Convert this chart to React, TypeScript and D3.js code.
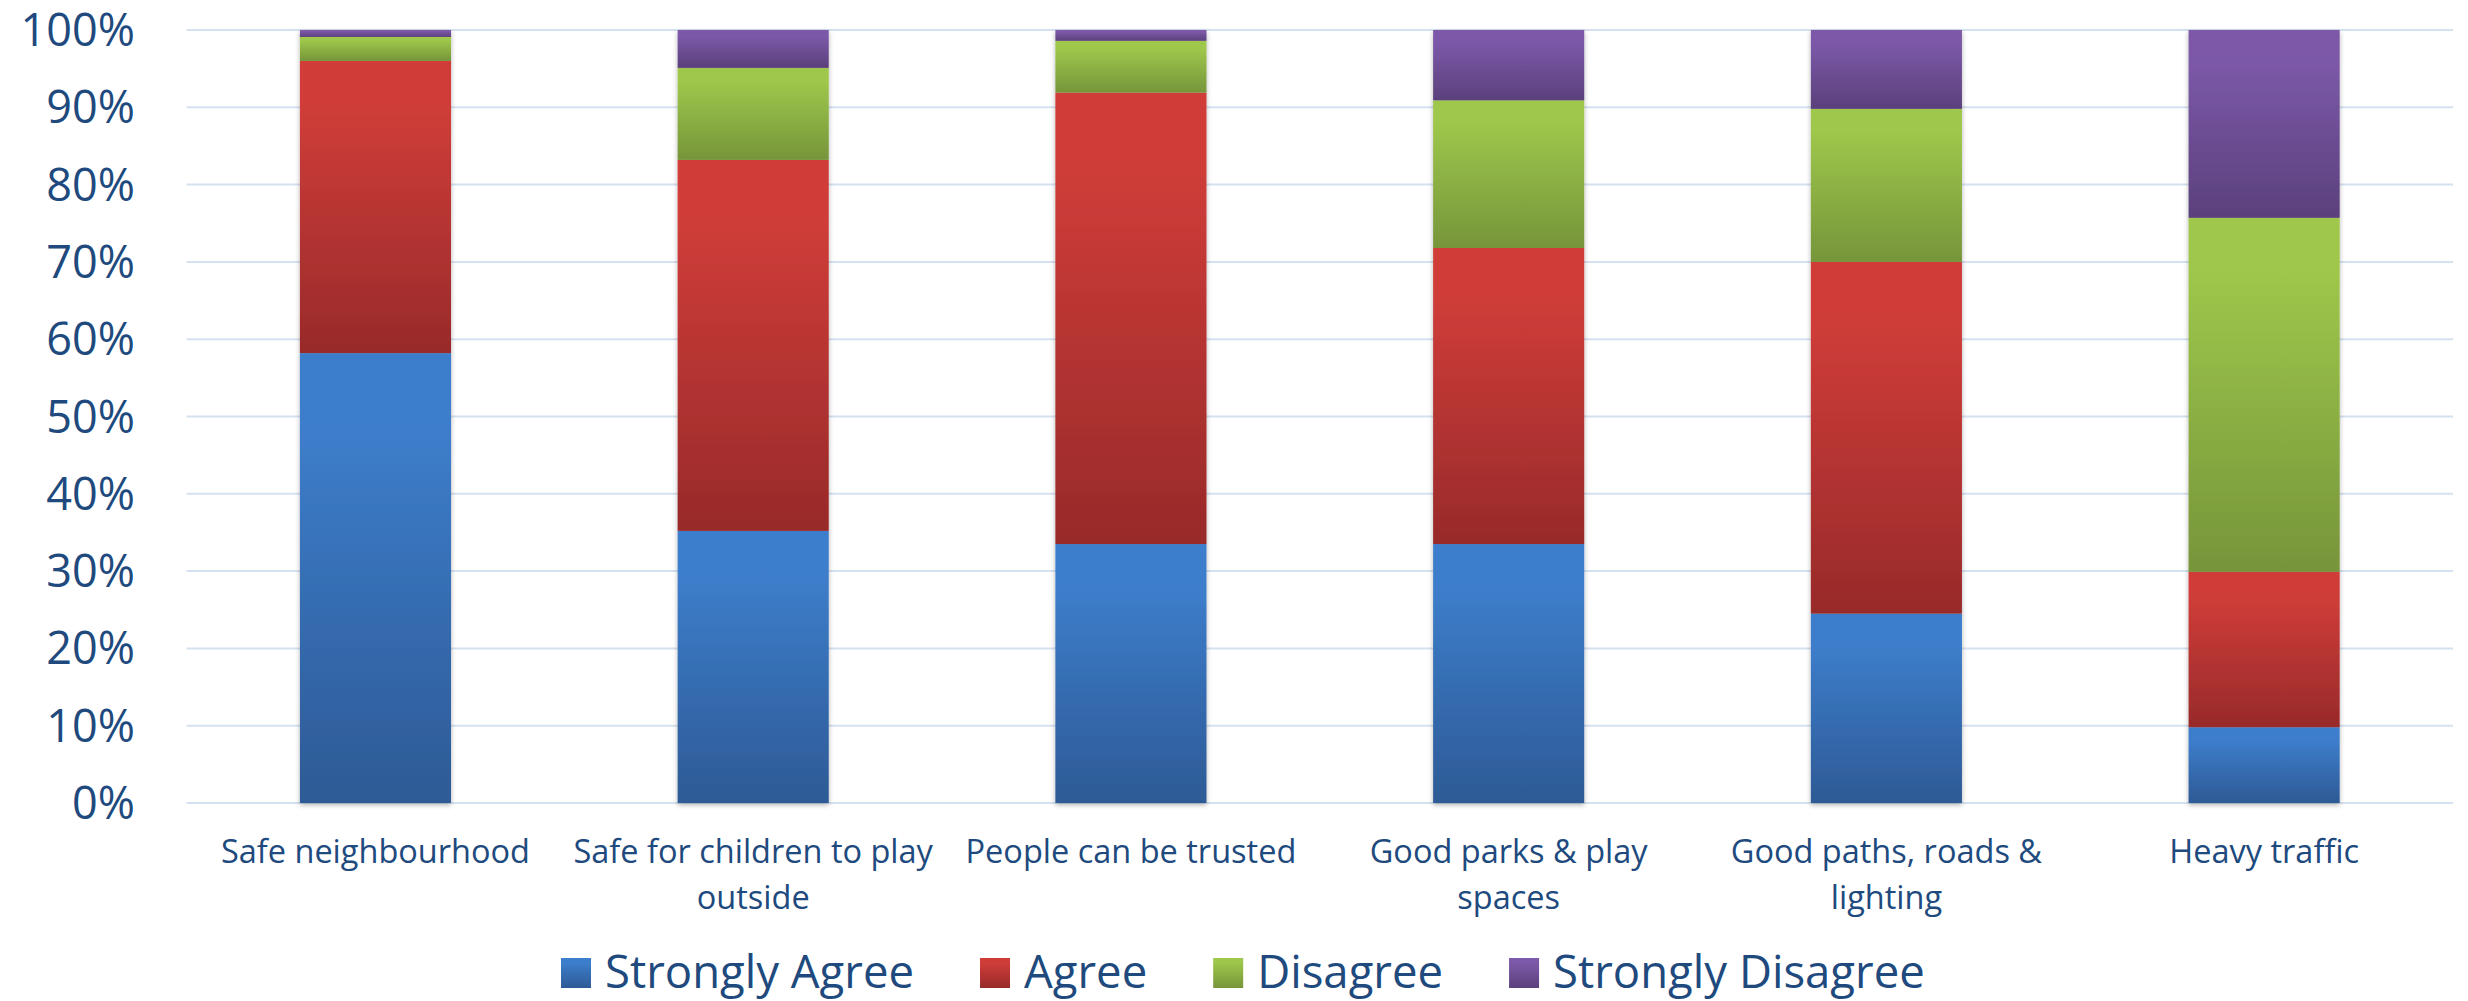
import React, { useEffect, useRef } from "react";
import * as d3 from "d3";

const categories = [
  "Safe neighbourhood",
  "Safe for children to play outside",
  "People can be trusted",
  "Good parks & play spaces",
  "Good paths, roads & lighting",
  "Heavy traffic",
];
const categoryLines = [
  ["Safe neighbourhood"],
  ["Safe for children to play", "outside"],
  ["People can be trusted"],
  ["Good parks & play", "spaces"],
  ["Good paths, roads &", "lighting"],
  ["Heavy traffic"],
];
const seriesNames = ["Strongly Agree", "Agree", "Disagree", "Strongly Disagree"];
const strongAgree = [58.2, 35.2, 33.5, 33.5, 24.5, 9.8];
const agree = [37.8, 48.0, 58.4, 38.3, 45.5, 20.1];
const disagree = [3.1, 11.9, 6.7, 19.1, 19.8, 45.8];
const strongDisagree = [0.9, 4.9, 1.4, 9.1, 10.2, 24.3];
const yTicks = [0, 10, 20, 30, 40, 50, 60, 70, 80, 90, 100];

const gradTop = ["#3d7ecc", "#d03d39", "#9ec74b", "#7d59a9"];
const gradBottom = ["#2d5a95", "#982a2a", "#76953a", "#5b407c"];
const textColor = "#204a7e";
const FONT = "'Open Sans', sans-serif";

export default function App() {
  const ref = useRef<SVGSVGElement | null>(null);

  useEffect(() => {
    document.body.style.margin = "0";
    const svg = d3.select(ref.current);
    svg.selectAll("*").remove();

    const W = 2468;
    const H = 1001;
    const left = 186.6;
    const right = 2453;
    const top = 30;
    const bottom = 803;

    const x = d3
      .scaleBand<string>()
      .domain(categories)
      .range([left, right])
      .paddingInner(0.6)
      .paddingOuter(0.3);
    const y = d3.scaleLinear().domain([0, 100]).range([bottom, top]);

    const defs = svg.append("defs");
    seriesNames.forEach((_, i) => {
      const g = defs
        .append("linearGradient")
        .attr("id", `grad${i}`)
        .attr("x1", 0)
        .attr("y1", 0)
        .attr("x2", 0)
        .attr("y2", 1);
      g.append("stop").attr("offset", "0%").attr("stop-color", gradTop[i]);
      g.append("stop").attr("offset", "15%").attr("stop-color", gradTop[i]);
      g.append("stop").attr("offset", "100%").attr("stop-color", gradBottom[i]);
    });
    const f = defs
      .append("filter")
      .attr("id", "shadow")
      .attr("x", "-10%")
      .attr("y", "-5%")
      .attr("width", "120%")
      .attr("height", "110%");
    f.append("feDropShadow")
      .attr("dx", 0)
      .attr("dy", 2)
      .attr("stdDeviation", 2.5)
      .attr("flood-color", "#000")
      .attr("flood-opacity", 0.3);

    svg.append("rect").attr("width", W).attr("height", H).attr("fill", "#fff");

    // gridlines
    svg
      .append("g")
      .selectAll("line")
      .data(yTicks)
      .join("line")
      .attr("x1", left)
      .attr("x2", right)
      .attr("y1", (d) => y(d))
      .attr("y2", (d) => y(d))
      .attr("stroke", "#d5e1f0")
      .attr("stroke-width", 2);

    // y tick labels
    svg
      .append("g")
      .selectAll("text")
      .data(yTicks)
      .join("text")
      .attr("x", 135)
      .attr("y", (d) => y(d) + 16)
      .attr("text-anchor", "end")
      .attr("font-family", FONT)
      .attr("font-size", 45)
      .attr("fill", textColor)
      .text((d) => `${d}%`);

    // stacked data
    const rows = categories.map((c, i) => ({
      cat: c,
      s0: strongAgree[i],
      s1: agree[i],
      s2: disagree[i],
      s3: strongDisagree[i],
    }));
    const stack = d3.stack<any>().keys(["s0", "s1", "s2", "s3"]);
    const stacked = stack(rows);

    const cols = svg
      .append("g")
      .selectAll("g")
      .data(categories)
      .join("g")
      .attr("filter", "url(#shadow)");

    cols.each(function (cat, ci) {
      const g = d3.select(this);
      stacked.forEach((layer, si) => {
        const d = layer[ci];
        g.append("rect")
          .attr("x", x(cat)!)
          .attr("width", x.bandwidth())
          .attr("y", y(d[1]))
          .attr("height", Math.max(0, y(d[0]) - y(d[1])))
          .attr("fill", `url(#grad${si})`);
      });
    });

    // category labels
    const labels = svg.append("g");
    categories.forEach((c, i) => {
      const cx = x(c)! + x.bandwidth() / 2;
      const t = labels
        .append("text")
        .attr("text-anchor", "middle")
        .attr("font-family", FONT)
        .attr("font-size", 32.5)
        .attr("fill", textColor);
      categoryLines[i].forEach((line, li) => {
        t.append("tspan")
          .attr("x", cx)
          .attr("y", 863 + li * 46)
          .text(line);
      });
    });

    // legend
    const lg = svg.append("g");
    let lx = 561;
    const base = 988;
    seriesNames.forEach((name, i) => {
      lg.append("rect")
        .attr("x", lx)
        .attr("y", base - 30)
        .attr("width", 30)
        .attr("height", 30)
        .attr("fill", `url(#grad${i})`);
      const t = lg
        .append("text")
        .attr("x", lx + 44)
        .attr("y", base)
        .attr("font-family", FONT)
        .attr("font-size", 45.5)
        .attr("fill", textColor)
        .text(name);
      const w = (t.node() as SVGTextElement).getComputedTextLength();
      lx = lx + 44 + w + 66;
    });
  }, []);

  return (
    <svg
      ref={ref}
      width={2468}
      height={1001}
      style={{ display: "block" }}
    />
  );
}
